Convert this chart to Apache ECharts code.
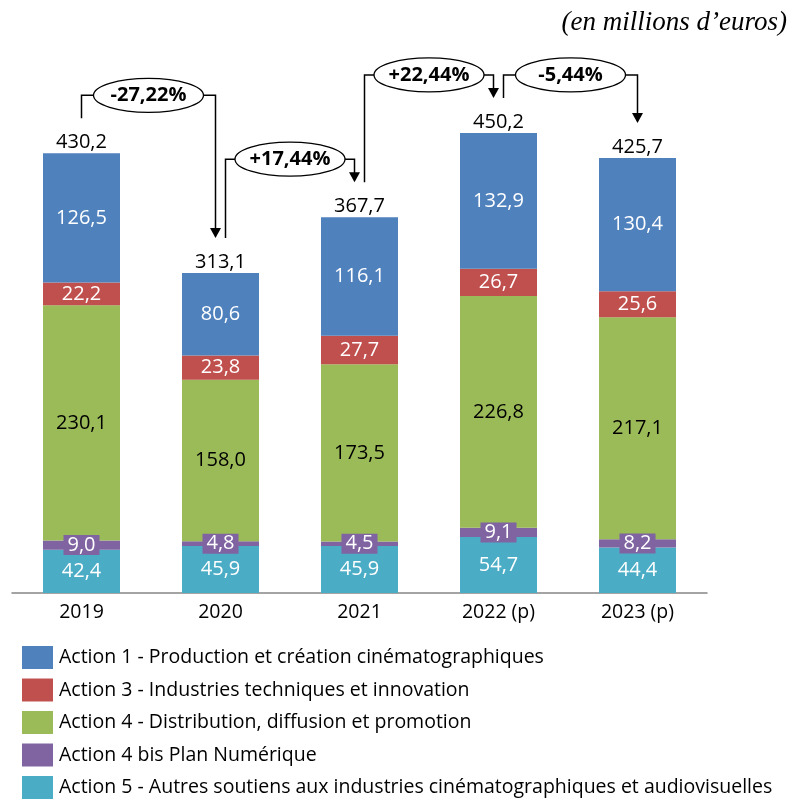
<!DOCTYPE html>
<html>
<head>
<meta charset="utf-8">
<script src="https://cdn.jsdelivr.net/npm/echarts@6/dist/echarts.min.js"></script>
<style>
  html, body { margin: 0; padding: 0; background: #fff; }
  .main { width: 792px; height: 800px; }
</style>
</head>
<body>
<div class="main" id="main"></div>
<script>
var years = ['2019', '2020', '2021', '2022 (p)', '2023 (p)'];

var action1 = [126.5, 80.6, 116.1, 132.9, 130.4];
var action3 = [22.2, 23.8, 27.7, 26.7, 25.6];
var action4 = [230.1, 158.0, 173.5, 226.8, 217.1];
var action4bis = [9.0, 4.8, 4.5, 9.1, 8.2];
var action5 = [42.4, 45.9, 45.9, 54.7, 44.4];
var totals = [430.2, 313.1, 367.7, 450.2, 425.7];
var variations = ['-27,22%', '+17,44%', '+22,44%', '-5,44%'];

var names = [
  'Action 1 - Production et création cinématographiques',
  'Action 3 - Industries techniques et innovation',
  'Action 4 - Distribution, diffusion et promotion',
  'Action 4 bis Plan Numérique',
  'Action 5 - Autres soutiens aux industries cinématographiques et audiovisuelles'
];

var font = '"Open Sans", sans-serif';

function fr(v) {
  return v.toFixed(1).replace('.', ',');
}

function seg(name, data, color, textColor, extra) {
  var label = {
    show: true,
    position: 'inside',
    color: textColor,
    fontSize: 20,
    fontFamily: font,
    formatter: function (p) { return fr(p.value); }
  };
  if (extra) Object.assign(label, extra);
  return {
    name: name,
    type: 'bar',
    stack: 'total',
    barWidth: 77,
    data: data,
    itemStyle: { color: color },
    label: label
  };
}

var chart = echarts.init(document.getElementById('main'));

var option = {
  animation: false,
  title: {
    text: '(en millions d\u2019euros)',
    right: 0,
    top: 4,
    textStyle: {
      fontFamily: '"Liberation Serif", serif',
      fontStyle: 'italic',
      fontWeight: 'normal',
      fontSize: 27,
      color: '#000'
    }
  },
  legend: {
    orient: 'vertical',
    left: 22,
    top: 646,
    padding: 0,
    itemWidth: 31,
    itemHeight: 23,
    itemGap: 9.5,
    icon: 'rect',
    data: names.slice(),
    textStyle: { fontFamily: font, fontSize: 19.5, color: '#000', padding: [0, 0, 0, 1] }
  },
  grid: { left: 12, right: 85, top: 82, bottom: 207 },
  xAxis: {
    type: 'category',
    data: years,
    axisLine: { lineStyle: { color: '#868686', width: 1.5 } },
    axisTick: { show: false },
    axisLabel: { color: '#000', fontSize: 19.5, fontFamily: font, margin: 9 }
  },
  yAxis: {
    type: 'value',
    min: 0,
    max: 500,
    show: false,
    splitLine: { show: false }
  },
  series: [
    seg(names[4], action5, '#4BACC6', '#fff'),
    seg(names[3], action4bis, '#8064A2', '#fff', {
      backgroundColor: '#8064A2',
      padding: [1, 4, -1, 4]
    }),
    seg(names[2], action4, '#9BBB59', '#000'),
    seg(names[1], action3, '#C0504D', '#fff'),
    seg(names[0], action1, '#4F81BD', '#fff'),
    {
      name: 'Total',
      type: 'bar',
      barWidth: 77,
      barGap: '-100%',
      z: 1,
      data: totals,
      itemStyle: { color: 'rgba(0,0,0,0)' },
      label: {
        show: true,
        position: 'top',
        distance: 1,
        color: '#000',
        fontSize: 20,
        fontFamily: font,
        formatter: function (p) { return fr(p.value); }
      }
    }
  ]
};

chart.setOption(option);

// variation arrows between consecutive totals
var graphics = [];
for (var i = 0; i < variations.length; i++) {
  var a = chart.convertToPixel({ seriesIndex: 5 }, [i, totals[i]]);
  var b = chart.convertToPixel({ seriesIndex: 5 }, [i + 1, totals[i + 1]]);
  var x1 = a[0] + (i === 0 ? 0 : 5);
  var x2 = b[0] - (i === 3 ? 0 : 5);
  var y1 = a[1] - 35;
  var y2 = b[1] - 35;
  var level = Math.min(a[1], b[1]) - 58;
  var cx = (x1 + x2) / 2;
  graphics.push({
    type: 'polyline',
    shape: { points: [[x1, y1], [x1, level], [x2, level], [x2, y2 - 9]] },
    style: { stroke: '#000', lineWidth: 1.5, fill: null },
    z: 10
  });
  graphics.push({
    type: 'polygon',
    shape: { points: [[x2 - 5.5, y2 - 10], [x2 + 5.5, y2 - 10], [x2, y2]] },
    style: { fill: '#000' },
    z: 10
  });
  graphics.push({
    type: 'ellipse',
    shape: { cx: cx, cy: level, rx: 55, ry: 17 },
    style: { fill: '#fff', stroke: '#000', lineWidth: 1.3 },
    z: 11
  });
  graphics.push({
    type: 'text',
    x: cx,
    y: level,
    style: {
      text: variations[i],
      fill: '#000',
      font: 'bold 20px ' + font,
      align: 'center',
      verticalAlign: 'middle'
    },
    z: 12
  });
}
chart.setOption({ graphic: graphics });
</script>
</body>
</html>
